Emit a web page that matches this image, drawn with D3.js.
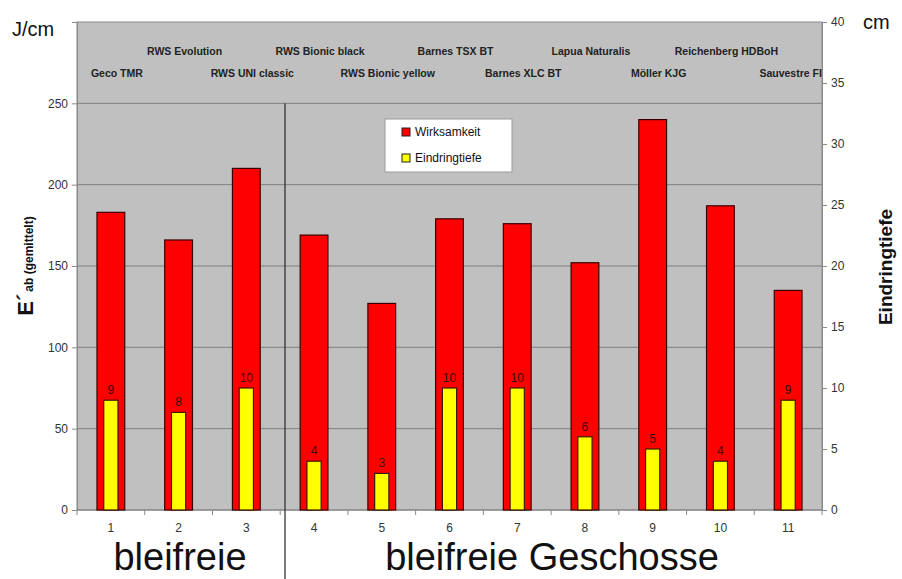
<!DOCTYPE html>
<html>
<head>
<meta charset="utf-8">
<script src="https://cdn.jsdelivr.net/npm/d3@7"></script>
<style>
  html, body { margin: 0; padding: 0; background: #fff; }
  svg { display: block; font-family: "Liberation Sans", Arial, sans-serif; }
</style>
</head>
<body>
<svg id="chart" width="902" height="579"></svg>
<script>
// Bullet numbers on the x axis
const categories = ["1", "2", "3", "4", "5", "6", "7", "8", "9", "10", "11"];
// Product names shown in the top band, one per bullet
const productNames = [
  "Geco TMR", "RWS Evolution", "RWS UNI classic", "RWS Bionic black",
  "RWS Bionic yellow", "Barnes TSX BT", "Barnes XLC BT", "Lapua Naturalis",
  "Möller KJG", "Reichenberg HDBoH", "Sauvestre FIP"
];
// Wirksamkeit, E'ab averaged (J/cm), left axis
const wirksamkeit = [183, 166, 210, 169, 127, 179, 176, 152, 240, 187, 135];
// Eindringtiefe (cm), right axis
const eindringtiefe = [9, 8, 10, 4, 3, 10, 10, 6, 5, 4, 9];
const leftTicks = [0, 50, 100, 150, 200, 250];
const rightTicks = [0, 5, 10, 15, 20, 25, 30, 35, 40];
const seriesNames = ["Wirksamkeit", "Eindringtiefe"];
const seriesColors = ["#ff0000", "#ffff00"];

const svg = d3.select("#chart");
const plot = { left: 77, right: 822, top: 22, bottom: 510 };

const x = d3.scaleBand().domain(categories).range([plot.left, plot.right]);
const yLeft = d3.scaleLinear().domain([0, 300]).range([plot.bottom, plot.top]);
const yRight = d3.scaleLinear().domain([0, 40]).range([plot.bottom, plot.top]);

// plot background
svg.append("rect")
  .attr("x", plot.left).attr("y", plot.top)
  .attr("width", plot.right - plot.left).attr("height", plot.bottom - plot.top)
  .attr("fill", "#c0c0c0").attr("stroke", "#8a8a8a").attr("stroke-width", 1);

// horizontal gridlines on the left scale
svg.append("g").selectAll("line")
  .data(leftTicks.filter(d => d > 0))
  .join("line")
  .attr("x1", plot.left).attr("x2", plot.right)
  .attr("y1", d => yLeft(d)).attr("y2", d => yLeft(d))
  .attr("stroke", "#7f7f7f").attr("stroke-width", 1);

// left axis
const leftAxis = svg.append("g")
  .attr("transform", `translate(${plot.left},0)`)
  .call(d3.axisLeft(yLeft).tickValues(leftTicks).tickSize(5).tickPadding(4));
leftAxis.select(".domain").attr("stroke", "#8a8a8a");
leftAxis.selectAll(".tick line").attr("stroke", "#8a8a8a");
leftAxis.selectAll(".tick text").attr("font-size", 12).attr("fill", "#333")
  .attr("font-family", "Liberation Sans, Arial, sans-serif");

// right axis
const rightAxis = svg.append("g")
  .attr("transform", `translate(${plot.right},0)`)
  .call(d3.axisRight(yRight).tickValues(rightTicks).tickSize(5).tickPadding(4));
rightAxis.select(".domain").attr("stroke", "#8a8a8a");
rightAxis.selectAll(".tick line").attr("stroke", "#8a8a8a");
rightAxis.selectAll(".tick text").attr("font-size", 12).attr("fill", "#333")
  .attr("font-family", "Liberation Sans, Arial, sans-serif");

// bottom axis: tick marks between categories, labels centered
svg.append("line")
  .attr("x1", plot.left).attr("x2", plot.right)
  .attr("y1", plot.bottom).attr("y2", plot.bottom)
  .attr("stroke", "#7f7f7f");
const boundaries = categories.map(c => x(c)).concat([plot.right]);
svg.append("g").selectAll("line")
  .data(boundaries)
  .join("line")
  .attr("x1", d => d).attr("x2", d => d)
  .attr("y1", plot.bottom).attr("y2", plot.bottom + 5)
  .attr("stroke", "#8a8a8a");
svg.append("g").selectAll("text")
  .data(categories)
  .join("text")
  .attr("x", d => x(d) + x.bandwidth() / 2)
  .attr("y", plot.bottom + 22)
  .attr("text-anchor", "middle")
  .attr("font-size", 12).attr("fill", "#333")
  .text(d => d);

// bars
const redW = x.bandwidth() * 0.41;
const yelW = x.bandwidth() * 0.21;
const barG = svg.append("g");
barG.selectAll("rect.w")
  .data(wirksamkeit)
  .join("rect")
  .attr("class", "w")
  .attr("x", (d, i) => x(categories[i]) + (x.bandwidth() - redW) / 2)
  .attr("y", d => yLeft(d))
  .attr("width", redW)
  .attr("height", d => yLeft(0) - yLeft(d))
  .attr("fill", seriesColors[0]).attr("stroke", "#3a0000").attr("stroke-width", 1.2);
barG.selectAll("rect.e")
  .data(eindringtiefe)
  .join("rect")
  .attr("class", "e")
  .attr("x", (d, i) => x(categories[i]) + (x.bandwidth() - yelW) / 2)
  .attr("y", d => yRight(d))
  .attr("width", yelW)
  .attr("height", d => yRight(0) - yRight(d))
  .attr("fill", seriesColors[1]).attr("stroke", "#3a1a00").attr("stroke-width", 1.2);
barG.selectAll("text.v")
  .data(eindringtiefe)
  .join("text")
  .attr("class", "v")
  .attr("x", (d, i) => x(categories[i]) + x.bandwidth() / 2)
  .attr("y", d => yRight(d) - 6)
  .attr("text-anchor", "middle")
  .attr("font-size", 12).attr("fill", "#3a0a0a")
  .text(d => d);

// product names in two staggered rows, clipped to the plot
svg.append("clipPath").attr("id", "plotClip")
  .append("rect")
  .attr("x", plot.left).attr("y", plot.top)
  .attr("width", plot.right - plot.left).attr("height", plot.bottom - plot.top);
svg.append("g").attr("clip-path", "url(#plotClip)")
  .selectAll("text")
  .data(productNames)
  .join("text")
  .attr("x", (d, i) => x(categories[i]) + x.bandwidth() / 2 + 6)
  .attr("y", (d, i) => i % 2 === 0 ? 77 : 55)
  .attr("text-anchor", "middle")
  .attr("font-size", 10.5).attr("font-weight", "bold").attr("fill", "#222")
  .text(d => d);

// group separator
svg.append("line")
  .attr("x1", 285).attr("x2", 285)
  .attr("y1", yLeft(250)).attr("y2", 579)
  .attr("stroke", "#333").attr("stroke-width", 1.3);

// legend
const lg = svg.append("g").attr("transform", "translate(385,119)");
lg.append("rect").attr("width", 127).attr("height", 53)
  .attr("fill", "#fff").attr("stroke", "#9a9a9a");
seriesNames.forEach((name, i) => {
  lg.append("rect")
    .attr("x", 17).attr("y", 9 + i * 26)
    .attr("width", 8).attr("height", 8)
    .attr("fill", seriesColors[i]).attr("stroke", "#222");
  lg.append("text")
    .attr("x", 30).attr("y", 17 + i * 26)
    .attr("font-size", 12).attr("fill", "#111")
    .text(name);
});

// unit labels
svg.append("text").attr("x", 12).attr("y", 36)
  .attr("font-size", 20).attr("fill", "#111").text("J/cm");
svg.append("text").attr("x", 863).attr("y", 29)
  .attr("font-size", 20).attr("fill", "#111").text("cm");

// left axis title
const lt = svg.append("text")
  .attr("transform", "translate(33,266) rotate(-90)")
  .attr("text-anchor", "middle")
  .attr("font-weight", "bold").attr("fill", "#111");
lt.append("tspan").attr("font-size", 22).text("E´");
lt.append("tspan").attr("font-size", 12).attr("dx", 2).text("ab (gemittelt)");

// right axis title
svg.append("text")
  .attr("transform", "translate(892,267) rotate(-90)")
  .attr("text-anchor", "middle")
  .attr("font-size", 19).attr("font-weight", "bold").attr("fill", "#111")
  .text("Eindringtiefe");

// group titles
svg.append("text").attr("x", 180).attr("y", 570)
  .attr("text-anchor", "middle").attr("font-size", 38).attr("fill", "#111")
  .text("bleifreie");
svg.append("text").attr("x", 552).attr("y", 570)
  .attr("text-anchor", "middle").attr("font-size", 38).attr("fill", "#111")
  .text("bleifreie Geschosse");
</script>
</body>
</html>
